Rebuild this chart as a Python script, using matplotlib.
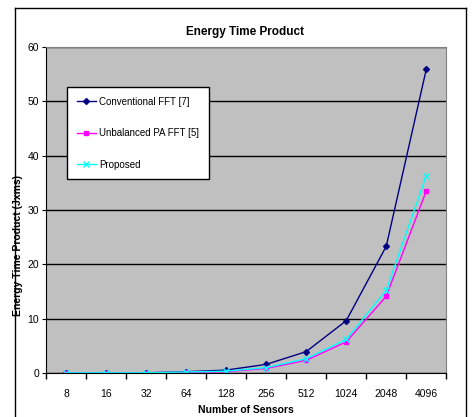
import matplotlib
matplotlib.use('Agg')
import matplotlib.pyplot as plt
from matplotlib.lines import Line2D

plt.rcParams['font.family'] = ['Liberation Sans', 'DejaVu Sans']

# data
sensors = ['8', '16', '32', '64', '128', '256', '512', '1024', '2048', '4096']
conventional = [0.0, 0.0, 0.0, 0.2, 0.5, 1.55, 3.9, 9.6, 23.3, 55.9]
unbalanced = [0.0, 0.0, 0.0, 0.1, 0.2, 0.8, 2.3, 5.7, 14.1, 33.5]
proposed = [0.0, 0.0, 0.0, 0.15, 0.3, 0.95, 2.6, 6.15, 15.2, 36.3]
y_ticks = [0, 10, 20, 30, 40, 50, 60]

fig = plt.figure(figsize=(4.72, 4.17), dpi=100)
ax = fig.add_axes([0.0975, 0.106, 0.848, 0.781])
ax.set_facecolor('#C0C0C0')

x = list(range(len(sensors)))
ax.plot(x, conventional, color='#000080', marker='D', markersize=3, lw=1,
        label='Conventional FFT [7]')
ax.plot(x, unbalanced, color='#FF00FF', marker='s', markersize=3.5, lw=1,
        label='Unbalanced PA FFT [5]')
ax.plot(x, proposed, color='#00FFFF', marker='x', markersize=4, lw=1,
        label='Proposed')

ax.set_xlim(-0.5, len(sensors) - 0.5)
ax.set_ylim(0, 60)
ax.set_yticks(y_ticks)
ax.yaxis.grid(True, color='black', lw=1)
ax.set_axisbelow(True)

# Excel-style category axis: ticks between categories, labels centered
ax.set_xticks([i + 0.5 for i in range(-1, len(sensors))])
ax.set_xticklabels([])
ax.set_xticks(x, minor=True)
ax.set_xticklabels(sensors, minor=True, fontsize=7.5)
ax.tick_params(axis='x', which='minor', length=0, pad=12)
ax.tick_params(axis='x', which='major', length=4, direction='out', width=1)
ax.tick_params(axis='y', length=3, direction='out', labelsize=7.5, pad=2)

for side in ['top', 'right']:
    ax.spines[side].set_color('#808080')
for side in ['left', 'bottom']:
    ax.spines[side].set_color('black')

ax.set_xlabel('Number of Sensors', fontsize=7.5, fontweight='bold')
ax.xaxis.set_label_coords(0.5, -0.098)
ax.set_ylabel('Energy Time Product (Jxms)', fontsize=7.5, fontweight='bold')
ax.yaxis.set_label_coords(-0.057, 0.39)
fig.text(0.52, 0.923, 'Energy Time Product', ha='center', va='center',
         fontsize=8.5, fontweight='bold')

leg = ax.legend(loc='upper left', bbox_to_anchor=(0.0525, 0.877),
                borderaxespad=0, fontsize=7, frameon=True, fancybox=False,
                borderpad=1.0, labelspacing=2.2, handlelength=2.0,
                handletextpad=0.3, facecolor='white', edgecolor='black',
                framealpha=1)
leg.get_frame().set_linewidth(1)

# outer chart frame
for xs, ys in [([0.032, 0.032], [0.0, 0.981]), ([0.987, 0.987], [0.0, 0.981]),
               ([0.032, 0.987], [0.981, 0.981])]:
    fig.add_artist(Line2D(xs, ys, color='black', lw=1, transform=fig.transFigure))

fig.savefig('out.png', dpi=100)
